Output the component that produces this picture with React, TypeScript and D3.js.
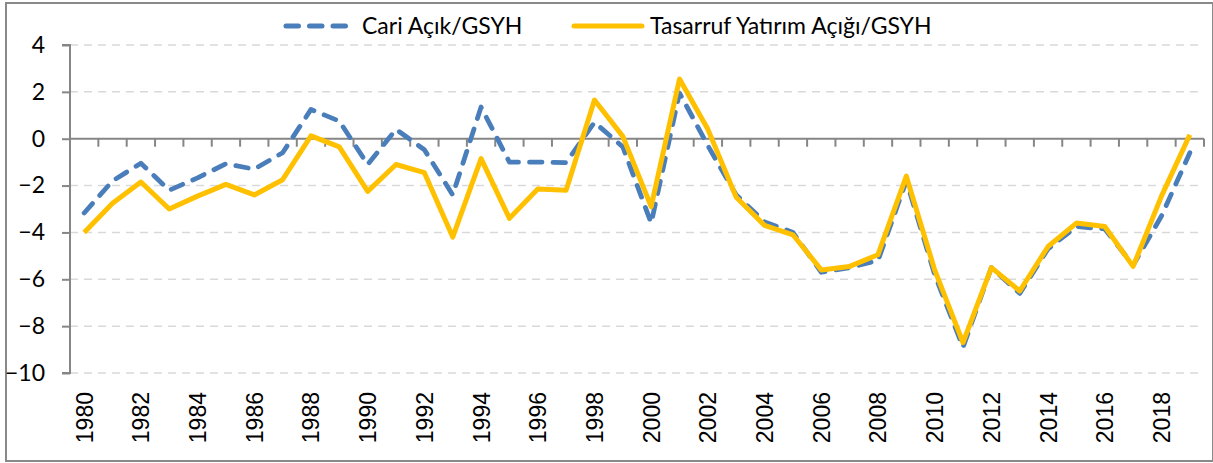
import React, { useEffect, useRef } from "react";
import * as d3 from "d3";

const years = d3.range(1980, 2020).map(String);

const cariAcik = [
  -3.17, -1.8, -1.05, -2.2, -1.67, -1.07, -1.3, -0.6, 1.25, 0.75,
  -1.1, 0.4, -0.47, -2.4, 1.35, -1.0, -1.0, -1.02, 0.7, -0.35,
  -3.6, 1.95, -0.3, -2.4, -3.55, -4.0, -5.7, -5.5, -5.2, -1.8,
  -5.8, -8.9, -5.5, -6.6, -4.7, -3.75, -3.85, -5.4, -3.3, -0.6,
];

const tasarrufAcik = [
  -4.0, -2.75, -1.85, -3.0, -2.45, -1.95, -2.4, -1.75, 0.12, -0.35,
  -2.25, -1.1, -1.45, -4.2, -0.85, -3.4, -2.15, -2.2, 1.65, 0.1,
  -2.9, 2.55, 0.4, -2.5, -3.7, -4.1, -5.6, -5.45, -4.95, -1.6,
  -5.6, -8.7, -5.5, -6.5, -4.6, -3.6, -3.75, -5.45, -2.45, 0.17,
];

const yTicks = [4, 2, 0, -2, -4, -6, -8, -10];
const seriesNames = ["Cari Açık/GSYH", "Tasarruf Yatırım Açığı/GSYH"];

const BLUE = "#4a7ebb";
const GOLD = "#ffc000";
const AXIS = "#868686";
const FONT = "Lato, 'Liberation Sans', sans-serif";

export default function App() {
  const ref = useRef<SVGSVGElement>(null);

  useEffect(() => {
    const svg = d3.select(ref.current);
    svg.selectAll("*").remove();

    const width = 1213;
    const left = 70;
    const right = 1204;
    const top = 45;
    const bottom = 373;

    // outer frame
    svg
      .append("rect")
      .attr("x", 6)
      .attr("y", 3)
      .attr("width", width - 6)
      .attr("height", 458)
      .attr("fill", "#fff")
      .attr("stroke", "#898989")
      .attr("stroke-width", 2);

    const x = d3.scaleBand().domain(years).range([left, right]);
    const y = d3.scaleLinear().domain([-10, 4]).range([bottom, top]);

    // gridlines
    svg
      .append("g")
      .selectAll("line")
      .data(yTicks.filter((d) => d !== 0))
      .enter()
      .append("line")
      .attr("x1", left)
      .attr("x2", 1198)
      .attr("y1", (d) => y(d))
      .attr("y2", (d) => y(d))
      .attr("stroke", "#d9d9d9")
      .attr("stroke-width", 1.5)
      .attr("stroke-dasharray", "8,6");

    // y axis
    const yAxis = svg
      .append("g")
      .attr("transform", `translate(${left},0)`)
      .call(d3.axisLeft(y).tickValues(yTicks).tickSize(8).tickPadding(17).tickFormat(d3.format("d")));
    yAxis.select(".domain").attr("stroke", AXIS).attr("stroke-width", 2).attr("d", `M-8,${top}H0V${bottom}H-8`);
    yAxis.selectAll(".tick line").attr("stroke", AXIS).attr("stroke-width", 2);
    yAxis
      .selectAll(".tick text")
      .attr("fill", "#000")
      .style("font-family", FONT)
      .style("font-size", "23px");

    // x axis line at zero with ticks at band boundaries
    const xg = svg.append("g");
    xg.append("line")
      .attr("x1", left)
      .attr("x2", right)
      .attr("y1", y(0))
      .attr("y2", y(0))
      .attr("stroke", AXIS)
      .attr("stroke-width", 2);
    xg.selectAll("line.tk")
      .data(years.slice(1).concat(["end"]))
      .enter()
      .append("line")
      .attr("class", "tk")
      .attr("x1", (d) => (d === "end" ? right : (x(d) as number)))
      .attr("x2", (d) => (d === "end" ? right : (x(d) as number)))
      .attr("y1", y(0))
      .attr("y2", y(0) + 8)
      .attr("stroke", AXIS)
      .attr("stroke-width", 2);

    // x labels (every second year), rotated
    svg
      .append("g")
      .selectAll("text")
      .data(years.filter((d, i) => i % 2 === 0))
      .enter()
      .append("text")
      .attr("transform", (d) => `translate(${(x(d) as number) + x.bandwidth() / 2 + 8.5},392) rotate(-90)`)
      .attr("text-anchor", "end")
      .style("font-family", "'Liberation Sans', Arial, sans-serif")
      .style("font-size", "23px")
      .text((d) => d);

    const line = d3
      .line<number>()
      .x((d, i) => (x(years[i]) as number) + x.bandwidth() / 2)
      .y((d) => y(d));

    svg
      .append("path")
      .datum(cariAcik)
      .attr("d", line)
      .attr("fill", "none")
      .attr("stroke", BLUE)
      .attr("stroke-width", 4.8)
      .attr("stroke-linecap", "round")
      .attr("stroke-linejoin", "round")
      .attr("stroke-dasharray", "12.5,11");

    svg
      .append("path")
      .datum(tasarrufAcik)
      .attr("d", line)
      .attr("fill", "none")
      .attr("stroke", GOLD)
      .attr("stroke-width", 5)
      .attr("stroke-linejoin", "round");

    // legend
    const lg = svg.append("g");
    lg.append("line")
      .attr("x1", 286)
      .attr("x2", 346)
      .attr("y1", 26)
      .attr("y2", 26)
      .attr("stroke", BLUE)
      .attr("stroke-width", 5)
      .attr("stroke-linecap", "round")
      .attr("stroke-dasharray", "12.5,11");
    lg.append("text")
      .attr("x", 362)
      .attr("y", 26)
      .attr("dy", "0.35em")
      .style("font-family", FONT)
      .style("font-size", "23px")
      .text(seriesNames[0]);
    lg.append("line")
      .attr("x1", 574)
      .attr("x2", 642)
      .attr("y1", 26)
      .attr("y2", 26)
      .attr("stroke", GOLD)
      .attr("stroke-width", 5)
      .attr("stroke-linecap", "round");
    lg.append("text")
      .attr("x", 650)
      .attr("y", 26)
      .attr("dy", "0.35em")
      .style("font-family", FONT)
      .style("font-size", "23px")
      .text(seriesNames[1]);
  });

  return (
    <svg
      ref={ref}
      width={1213}
      height={463}
      style={{ position: "absolute", left: 0, top: 0, background: "#fff" }}
    />
  );
}
